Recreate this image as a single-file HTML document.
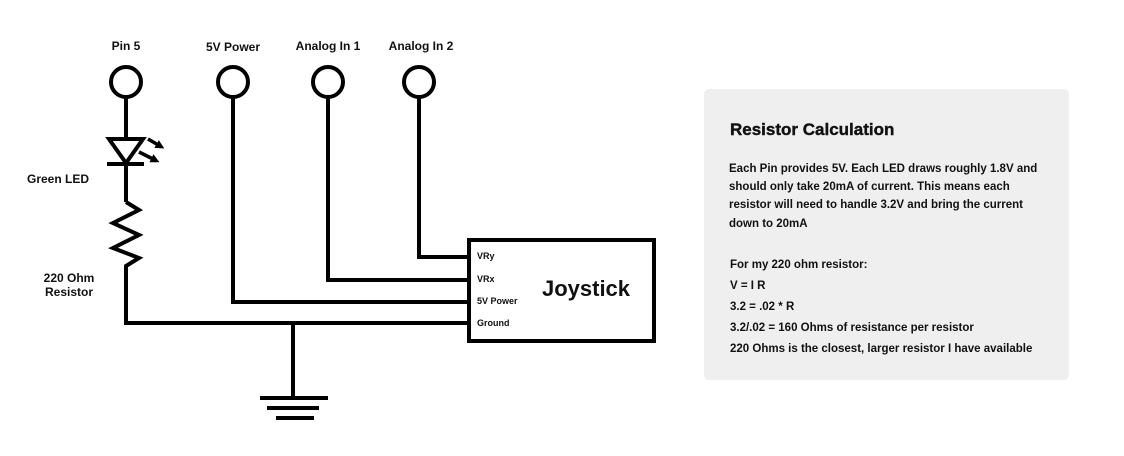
<!DOCTYPE html>
<html><head><meta charset="utf-8"><style>
body{margin:0;background:#fff;}
svg{display:block;}
text{font-family:"Liberation Sans",sans-serif;font-weight:bold;fill:#111;}
</style></head><body>
<svg width="1124" height="456" viewBox="0 0 1124 456">
<defs><marker id="ah" markerWidth="9" markerHeight="9" refX="4" refY="4.5" orient="auto" markerUnits="userSpaceOnUse"><path d="M0,0 L9,4.5 L0,9 Z" fill="#000"/></marker></defs>
<g fill="none" stroke="#000" stroke-width="4">
<circle cx="126" cy="82" r="15"/>
<circle cx="233" cy="82" r="15"/>
<circle cx="328" cy="82" r="15"/>
<circle cx="419" cy="82" r="15"/>
<path d="M126,97 V139 M126,164 V202"/>
<path d="M109,139 H143 L126,163 Z" stroke-linejoin="miter"/>
<path d="M107,164 H144"/>
<path d="M148,139 L160,146" stroke-width="3.5" marker-end="url(#ah)"/>
<path d="M139,152 L155,160" stroke-width="3.5" marker-end="url(#ah)"/>
<path d="M126,202 L139,210 L113,223 L139,235 L113,248 L139,258 L126,266 V323 H468" stroke-linejoin="miter"/>
<path d="M233,97 V302 H468"/>
<path d="M328,97 V280 H468"/>
<path d="M419,97 V257 H468"/>
<path d="M293,323 V398"/>
<path d="M260,398 H328 M267,408 H319 M276,418 H314"/>
<rect x="469" y="240" width="185" height="101"/>
</g>
<text x="126" y="50" font-size="12" text-anchor="middle">Pin 5</text>
<text x="233" y="51" font-size="12" text-anchor="middle">5V Power</text>
<text x="328" y="50" font-size="12" text-anchor="middle">Analog In 1</text>
<text x="421" y="50" font-size="12" text-anchor="middle">Analog In 2</text>
<text x="58" y="183" font-size="12" text-anchor="middle">Green LED</text>
<text x="69" y="282" font-size="12" text-anchor="middle">220 Ohm</text>
<text x="69" y="296" font-size="12" text-anchor="middle">Resistor</text>
<text x="477" y="259" font-size="9">VRy</text>
<text x="477" y="282" font-size="9">VRx</text>
<text x="477" y="304" font-size="9">5V Power</text>
<text x="477" y="326" font-size="9">Ground</text>
<text x="586" y="296" font-size="22" text-anchor="middle">Joystick</text>
<rect x="704" y="89" width="365" height="291" rx="5" fill="#efefef"/>
<text x="730" y="135" font-size="17" stroke="#111" stroke-width="0.4">Resistor Calculation</text>
<g font-size="11.5">
<text x="729" y="172">Each Pin provides 5V. Each LED draws roughly 1.8V and</text>
<text x="729" y="190">should only take 20mA of current. This means each</text>
<text x="729" y="208">resistor will need to handle 3.2V and bring the current</text>
<text x="729" y="227">down to 20mA</text>
<text x="730" y="268">For my 220 ohm resistor:</text>
<text x="730" y="289">V = I R</text>
<text x="730" y="310">3.2 = .02 * R</text>
<text x="730" y="331">3.2/.02 = 160 Ohms of resistance per resistor</text>
<text x="730" y="352">220 Ohms is the closest, larger resistor I have available</text>
</g>
</svg>
</body></html>
